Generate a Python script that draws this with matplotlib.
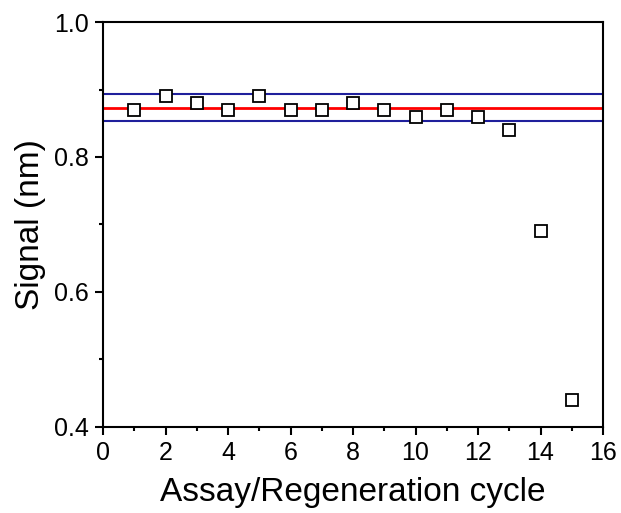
import matplotlib
matplotlib.use("Agg")
import matplotlib.pyplot as plt
from matplotlib.ticker import MultipleLocator

plt.rcParams['font.family'] = ['Liberation Sans', 'DejaVu Sans']

# data
cycle = [1, 2, 3, 4, 5, 6, 7, 8, 9, 10, 11, 12, 13, 14, 15]
signal = [0.87, 0.89, 0.88, 0.87, 0.89, 0.87, 0.87, 0.88, 0.87, 0.86, 0.87, 0.86, 0.84, 0.69, 0.44]
mean_level = 0.873
upper_level = 0.893
lower_level = 0.853

fig = plt.figure(figsize=(6.21, 5.13), dpi=100)
ax = fig.add_axes([0.166, 0.168, 0.805, 0.789])

ax.axhline(upper_level, color='#1f1f9c', lw=1.5, zorder=1)
ax.axhline(lower_level, color='#1f1f9c', lw=1.5, zorder=1)
ax.axhline(mean_level, color='#ff0000', lw=2, zorder=1)
ax.plot(cycle, signal, 's', ms=8.5, mfc='white', mec='black', mew=1.3, ls='none', zorder=3)

ax.set_xlim(0, 16)
ax.set_ylim(0.4, 1.0)
ax.xaxis.set_major_locator(MultipleLocator(2))
ax.xaxis.set_minor_locator(MultipleLocator(1))
ax.yaxis.set_major_locator(MultipleLocator(0.2))
ax.yaxis.set_minor_locator(MultipleLocator(0.1))
ax.tick_params(which='both', direction='out', width=1.5, labelsize=18, pad=4)
ax.tick_params(which='major', length=6)
ax.tick_params(which='minor', length=3)
for s in ax.spines.values():
    s.set_linewidth(1.5)

ax.set_xlabel('Assay/Regeneration cycle', fontsize=24, labelpad=9)
ax.set_ylabel('Signal (nm)', fontsize=24, labelpad=6)

fig.savefig('out.png', dpi=100)
